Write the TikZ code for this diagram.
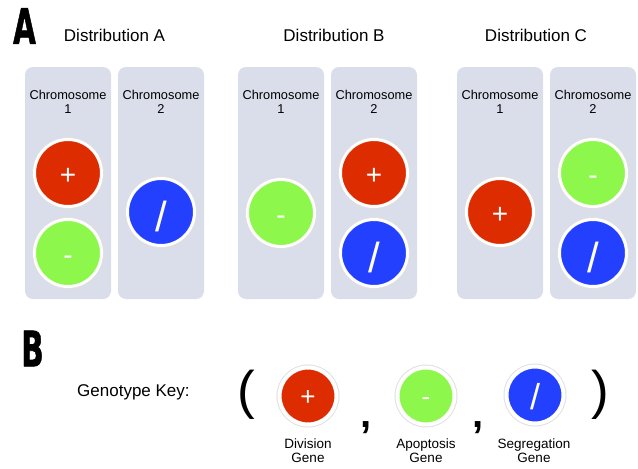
\documentclass[tikz,border=0pt]{standalone}
\usepackage{fontspec}
\setmainfont{Liberation Sans}
\newfontfamily\heavyfont{DejaVu Sans}[FakeBold=1.5]
\usepackage{graphicx}
\definecolor{panelgray}{RGB}{217,222,234}
\definecolor{genered}{RGB}{221,45,0}
\definecolor{genegreen}{RGB}{141,247,75}
\definecolor{geneblue}{RGB}{36,64,255}
\newcommand{\partlabel}[1]{\scalebox{0.6}[1]{\heavyfont\fontsize{49}{49}\selectfont\bfseries #1}}
\begin{document}
\begin{tikzpicture}[x=1pt,y=-1pt,
  chrom/.style={fill=panelgray, rounded corners=8pt, minimum width=86pt, minimum height=232pt, inner sep=0pt},
  chromlabel/.style={align=center, inner sep=0pt, font=\fontsize{12.8}{14}\selectfont},
  title/.style={inner sep=0pt, font=\fontsize{17}{20}\selectfont},
  genebase/.style={circle, draw=white, inner sep=0pt, text=white, text depth=0pt},
  gene/.style={genebase, line width=3pt, minimum size=67pt, font=\fontsize{28}{28}\selectfont, text height=22.6pt, preaction={draw=black!12, line width=5pt}},
  keygene/.style={genebase, line width=4pt, minimum size=57pt, font=\fontsize{26}{26}\selectfont, text height=18.2pt, preaction={draw=black!12, line width=6pt}},
  genelabel/.style={align=center, inner sep=0pt, font=\fontsize{13.5}{14}\selectfont}]
\useasboundingbox (0,0) rectangle (638,469);
% part A
\node[inner sep=0pt] (partA) at (24.5,26) {\partlabel{A}};
\node[title] (distA) at (114.5,35.5) {Distribution A};
\node[title] (distB) at (334,35.5) {Distribution B};
\node[title] (distC) at (536,35.5) {Distribution C};
\node[chrom] (a1) at (68,183) {};
\node[chrom] (a2) at (161,183) {};
\node[chrom] (b1) at (281,183) {};
\node[chrom] (b2) at (374,183) {};
\node[chrom] (c1) at (500,183) {};
\node[chrom] (c2) at (593,183) {};
\node[chromlabel] at (68,102) {Chromosome\\1};
\node[chromlabel] at (161,102) {Chromosome\\2};
\node[chromlabel] at (281,102) {Chromosome\\1};
\node[chromlabel] at (374,102) {Chromosome\\2};
\node[chromlabel] at (500,102) {Chromosome\\1};
\node[chromlabel] at (593,102) {Chromosome\\2};
\node[gene, fill=genered] (aplus) at (68,173) {+};
\node[gene, fill=genegreen] (aminus) at (68,253) {-};
\node[gene, fill=geneblue, font=\fontsize{42}{42}\selectfont, text height=38pt] (aslash) at (161,212) {/};
\node[gene, fill=genegreen] (bminus) at (281,213) {-};
\node[gene, fill=genered] (bplus) at (374,173) {+};
\node[gene, fill=geneblue, font=\fontsize{42}{42}\selectfont, text height=38pt] (bslash) at (374,253) {/};
\node[gene, fill=genered] (cplus) at (500,212) {+};
\node[gene, fill=genegreen] (cminus) at (593,173) {-};
\node[gene, fill=geneblue, font=\fontsize{42}{42}\selectfont, text height=38pt] (cslash) at (593,253) {/};
% part B
\node[inner sep=0pt] (partB) at (32.5,348.5) {\partlabel{B}};
\node[title, anchor=west] (key) at (77,392) {Genotype Key:};
\node[inner sep=0pt, font=\fontsize{53}{53}\selectfont] (lpar) at (246,395) {(};
\node[keygene, fill=genered] (kplus) at (308,396) {+};
\node[inner sep=0pt, font=\fontsize{40}{40}\selectfont\bfseries] (comma1) at (366,428) {,};
\node[keygene, fill=genegreen] (kminus) at (426,396) {-};
\node[inner sep=0pt, font=\fontsize{40}{40}\selectfont\bfseries] (comma2) at (478,428) {,};
\node[keygene, fill=geneblue, font=\fontsize{36}{36}\selectfont, text height=28.8pt] (kslash) at (535,395) {/};
\node[inner sep=0pt, font=\fontsize{53}{53}\selectfont] (rpar) at (600,395) {)};
\node[genelabel] (divlabel) at (308,451) {Division\\Gene};
\node[genelabel] (apolabel) at (426,451) {Apoptosis\\Gene};
\node[genelabel] (seglabel) at (534,451) {Segregation\\Gene};
\end{tikzpicture}
\end{document}
